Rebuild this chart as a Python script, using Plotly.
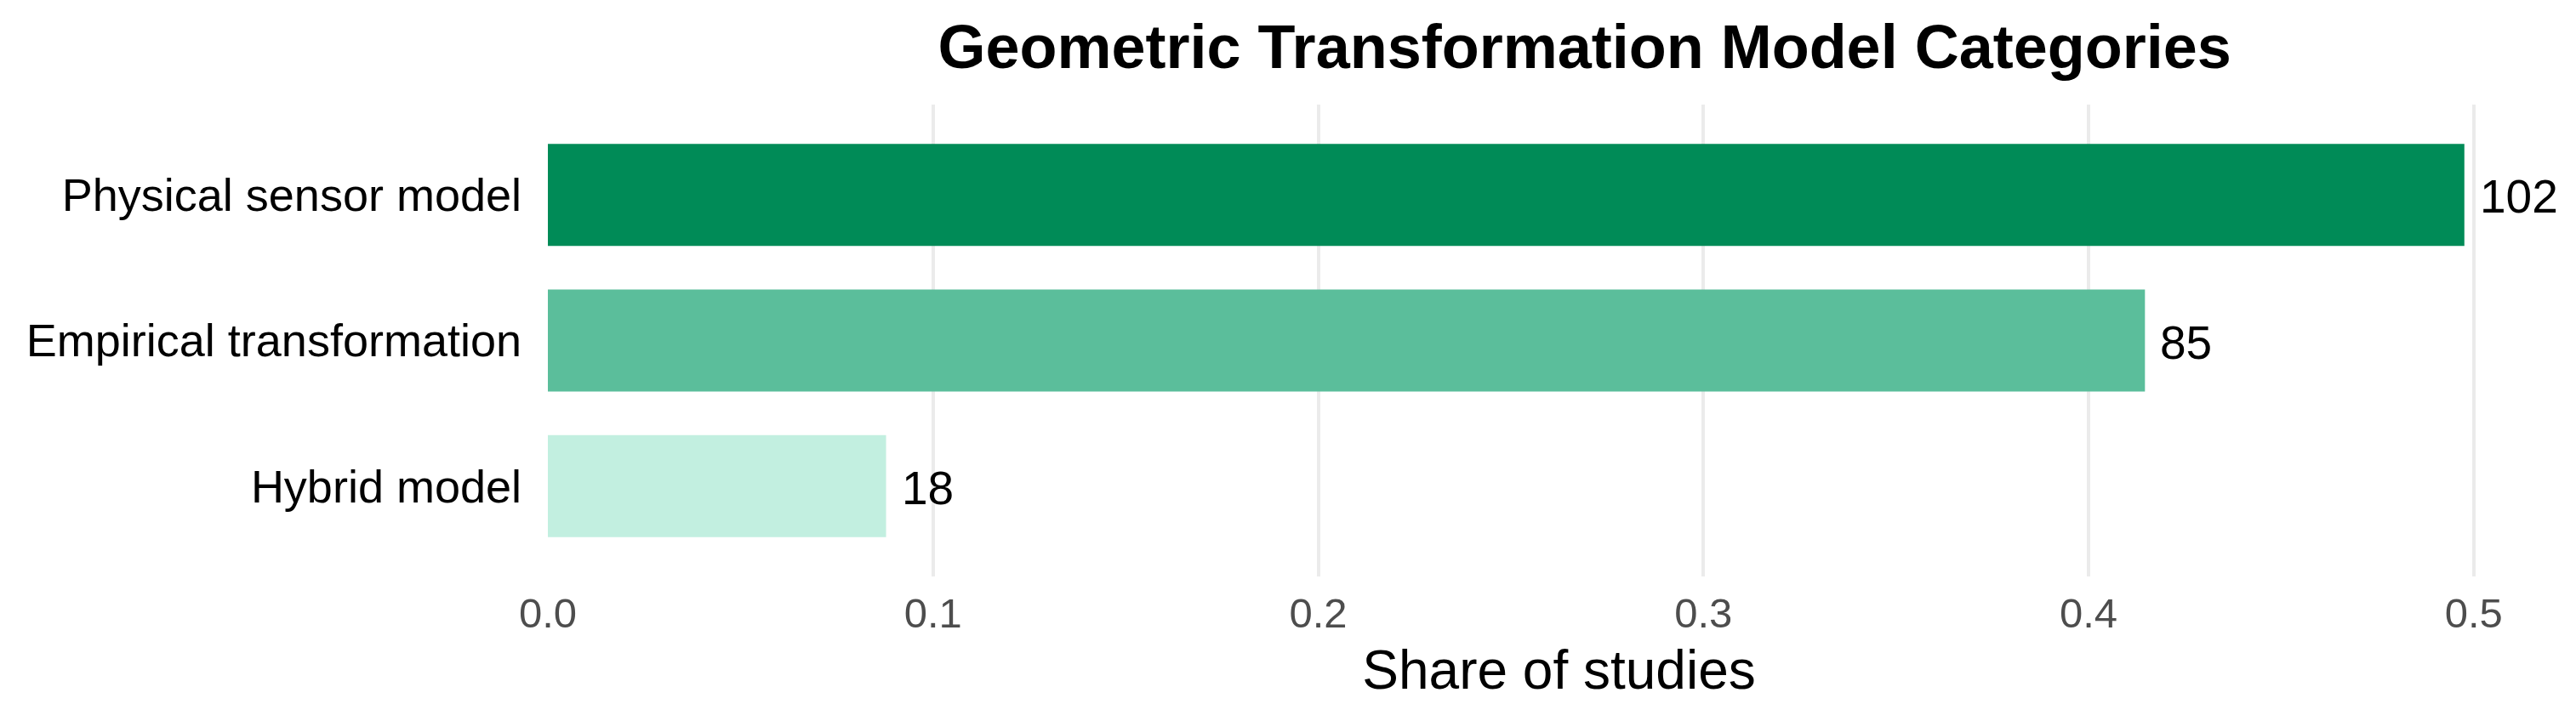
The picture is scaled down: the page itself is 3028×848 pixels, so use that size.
import plotly.graph_objects as go

# data
categories = ["Physical sensor model", "Empirical transformation", "Hybrid model"]
counts = [102, 85, 18]
colors = ["#008B57", "#5BBE9B", "#C2EFE0"]
x_ticks = [0.0, 0.1, 0.2, 0.3, 0.4, 0.5]

total = sum(counts)
shares = [c / total for c in counts]

FONT = "Liberation Sans, Arial, sans-serif"

fig = go.Figure(
    go.Bar(
        x=shares,
        y=categories,
        orientation="h",
        marker=dict(color=colors, line=dict(width=0)),
        width=0.7,
        hoverinfo="skip",
    )
)

for cat, share, n in zip(categories, shares, counts):
    fig.add_annotation(
        x=share, y=cat, text=str(n), showarrow=False,
        xanchor="left", xshift=16, yshift=-2,
        font=dict(family=FONT, size=55, color="black"),
    )

fig.update_layout(
    width=3028,
    height=848,
    margin=dict(l=636, r=15, t=115, b=178),
    plot_bgcolor="white",
    paper_bgcolor="white",
    showlegend=False,
    font=dict(family=FONT),
    title=dict(
        text="<b>Geometric Transformation Model Categories</b>",
        font=dict(family=FONT, size=72, color="black"),
        xref="container", x=0.6125, xanchor="center",
        yref="container", y=0.975, yanchor="top",
    ),
)

fig.update_xaxes(
    range=[0, 0.525],
    tickvals=x_ticks,
    tickformat=".1f",
    showgrid=True,
    gridcolor="#EBEBEB",
    gridwidth=4,
    zeroline=False,
    showline=False,
    ticks="",
    automargin=False,
    tickfont=dict(family=FONT, size=49, color="#4D4D4D"),
    ticklabelstandoff=10,
    title=dict(text="Share of studies", font=dict(family=FONT, size=64, color="black"), standoff=18),
)

fig.update_yaxes(
    categoryorder="array",
    categoryarray=categories,
    range=[2.62, -0.62],
    showgrid=False,
    zeroline=False,
    showline=False,
    ticks="",
    automargin=False,
    tickfont=dict(family=FONT, size=54, color="black"),
    ticklabelstandoff=30,
)

fig.write_html("out.html")
